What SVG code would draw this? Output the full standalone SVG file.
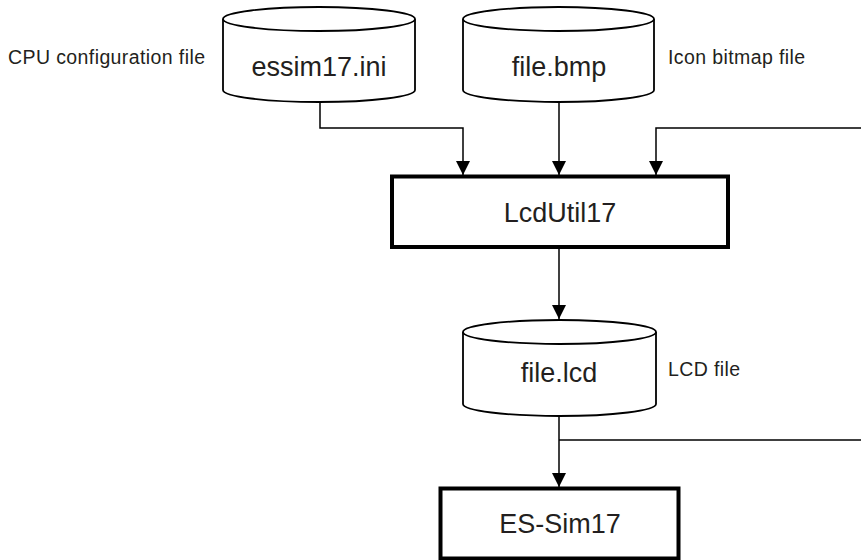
<svg xmlns="http://www.w3.org/2000/svg" width="861" height="560" viewBox="0 0 861 560">
<style>
  .cyl{fill:#fff;stroke:#000;stroke-width:1.8}
  .box{fill:#fff;stroke:#000;stroke-width:4}
  .t{font-family:"Liberation Sans",Arial,sans-serif;font-size:27px;fill:#231f20;text-anchor:middle}
  .lbl{font-family:"Liberation Sans",Arial,sans-serif;font-size:19.5px;letter-spacing:0.4px;fill:#231f20}
  .c{fill:none;stroke:#000;stroke-width:1.5}
</style>
<defs>
  <marker id="ah" markerUnits="userSpaceOnUse" markerWidth="14" markerHeight="14" refX="14" refY="7" orient="auto">
    <path d="M0,0 L14,7 L0,14 Z" fill="#000"/>
  </marker>
</defs>
<rect width="861" height="560" fill="#fff"/>
<g id="connectors">
  <path class="c" d="M320,102 V128 H463 V175" marker-end="url(#ah)"/>
  <path class="c" d="M559,102 V175" marker-end="url(#ah)"/>
  <path class="c" d="M861,128 H656 V175" marker-end="url(#ah)"/>
  <path class="c" d="M559,249 V319" marker-end="url(#ah)"/>
  <path class="c" d="M559,416 V487" marker-end="url(#ah)"/>
  <path class="c" d="M559,440 H861"/>
</g>
<g id="essim17">
  <path class="cyl" d="M223,19 V90 A96,12 0 0,0 415,90 V19"/>
  <ellipse class="cyl" cx="319" cy="19" rx="96" ry="12"/>
  <text class="t" x="319" y="76">essim17.ini</text>
</g>
<g id="filebmp">
  <path class="cyl" d="M463,19 V90 A95.5,12 0 0,0 654,90 V19"/>
  <ellipse class="cyl" cx="558.5" cy="19" rx="95.5" ry="12"/>
  <text class="t" x="559" y="76">file.bmp</text>
</g>
<g id="lcdutil">
  <rect class="box" x="392" y="176.5" width="336" height="70.5"/>
  <text class="t" x="560" y="222">LcdUtil17</text>
</g>
<g id="filelcd">
  <path class="cyl" d="M463,332 V404 A96.5,12 0 0,0 656,404 V332"/>
  <ellipse class="cyl" cx="559.5" cy="332" rx="96.5" ry="12"/>
  <text class="t" x="559" y="382">file.lcd</text>
</g>
<g id="essim">
  <rect class="box" x="440.5" y="488.5" width="238" height="70"/>
  <text class="t" x="560" y="533">ES-Sim17</text>
</g>
<g id="labels">
  <text class="lbl" x="8" y="64">CPU configuration file</text>
  <text class="lbl" x="668" y="64">Icon bitmap file</text>
  <text class="lbl" x="668" y="376">LCD file</text>
</g>
</svg>
